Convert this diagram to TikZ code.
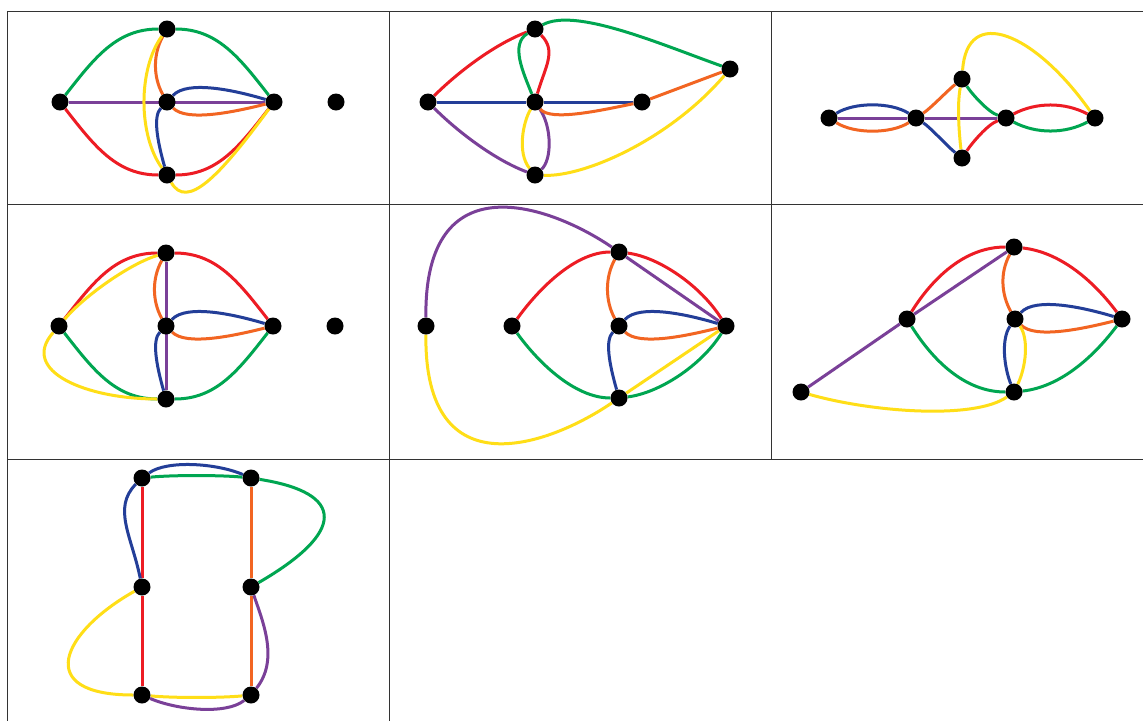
\documentclass[tikz,border=0pt]{standalone}
\definecolor{cred}{RGB}{237,28,36}
\definecolor{cgreen}{RGB}{0,166,81}
\definecolor{cblue}{RGB}{35,62,152}
\definecolor{cpurple}{RGB}{122,64,152}
\definecolor{corange}{RGB}{242,101,34}
\definecolor{cyellow}{RGB}{255,222,23}
\pgfdeclarelayer{bglayer}
\pgfdeclarelayer{edgelayer}
\pgfsetlayers{bglayer,edgelayer,main}
\begin{document}
\begin{tikzpicture}[x=1pt,y=-1pt,
  dot/.style={circle,fill=black,inner sep=0pt,minimum size=17pt},
  gridline/.style={draw=black!80,line width=1pt},
  ed/.style={line width=3pt},
  Ered/.style={ed,draw=cred},
  Egreen/.style={ed,draw=cgreen},
  Eblue/.style={ed,draw=cblue},
  Epurple/.style={ed,draw=cpurple},
  Eorange/.style={ed,draw=corange},
  Eyellow/.style={ed,draw=cyellow}]
\useasboundingbox (0,0) rectangle (1143,721);
\begin{pgfonlayer}{bglayer}
\fill[white] (0,0) rectangle (1143,721);
\draw[gridline] (7,11) -- (1143,11);
\draw[gridline] (7,204) -- (1143,204);
\draw[gridline] (7,459) -- (1143,459);
\draw[gridline] (7,11) -- (7,721);
\draw[gridline] (389,11) -- (389,721);
\draw[gridline] (771,11) -- (771,459);
\end{pgfonlayer}

% panel 1
\node[dot] (aL) at (60,102) {};
\node[dot] (aT) at (167,29) {};
\node[dot] (aC) at (167,102) {};
\node[dot] (aB) at (167,175) {};
\node[dot] (aR) at (274,102) {};
\node[dot] (aI) at (336,102) {};
% panel 2
\node[dot] (bL) at (428,102) {};
\node[dot] (bT) at (535,29) {};
\node[dot] (bC) at (535,102) {};
\node[dot] (bB) at (535,175) {};
\node[dot] (bM) at (642,102) {};
\node[dot] (bR) at (730,69) {};
% panel 3
\node[dot] (cA) at (829,118) {};
\node[dot] (cB) at (916,118) {};
\node[dot] (cT) at (962,79) {};
\node[dot] (cD) at (962,158) {};
\node[dot] (cE) at (1006,118) {};
\node[dot] (cF) at (1095,118) {};
% panel 4
\node[dot] (dL) at (59,326) {};
\node[dot] (dT) at (166,253) {};
\node[dot] (dC) at (166,326) {};
\node[dot] (dB) at (166,399) {};
\node[dot] (dR) at (273,326) {};
\node[dot] (dI) at (335,326) {};
% panel 5
\node[dot] (eF) at (426,326) {};
\node[dot] (eL) at (512,326) {};
\node[dot] (eT) at (619,252) {};
\node[dot] (eC) at (619,326) {};
\node[dot] (eB) at (619,398) {};
\node[dot] (eR) at (726,326) {};
% panel 6
\node[dot] (fF) at (801,392) {};
\node[dot] (fL) at (907,319) {};
\node[dot] (fT) at (1014,247) {};
\node[dot] (fC) at (1015,319) {};
\node[dot] (fB) at (1014,392) {};
\node[dot] (fR) at (1122,319) {};
% panel 7
\node[dot] (gA) at (142,478) {};
\node[dot] (gB) at (251,478) {};
\node[dot] (gC) at (142,587) {};
\node[dot] (gD) at (251,587) {};
\node[dot] (gE) at (142,695) {};
\node[dot] (gF) at (251,695) {};

\begin{pgfonlayer}{edgelayer}
% panel 1
\draw[Egreen] (aL) .. controls +(35,-45) and +(-50,0) .. (aT);
\draw[Egreen] (aT) .. controls +(50,0) and +(-35,-45) .. (aR);
\draw[Ered] (aL) .. controls +(35,45) and +(-50,0) .. (aB);
\draw[Ered] (aB) .. controls +(50,0) and +(-35,45) .. (aR);
\draw[Epurple] (aL) -- (aR);
\draw[Eorange] (aT) .. controls +(-14,25) and +(-14,-25) .. (aC);
\draw[Eyellow] (aT) .. controls +(-29,40) and +(-29,-40) .. (aB);
\draw[Eblue] (aC) .. controls +(20,-22) and +(-40,-12) .. (aR);
\draw[Eorange] (aC) .. controls +(20,20) and +(-40,10) .. (aR);
\draw[Eblue] (aC) .. controls +(-14,14) and +(-10,-35) .. (aB);
\draw[Eyellow] (aB) .. controls +(20,35) and +(-55,75) .. (aR);
% panel 2
\draw[Ered] (bL) .. controls +(30,-30) and +(-40,15) .. (bT);
\draw[Epurple] (bL) .. controls +(30,30) and +(-40,-15) .. (bB);
\draw[Eblue] (bL) -- (bC);
\draw[Eblue] (bC) -- (bM);
\draw[Egreen] (bT) .. controls +(-25,15) and +(-12,-30) .. (bC);
\draw[Ered] (bT) .. controls +(22,22) and +(10,-35) .. (bC);
\draw[Egreen] (bT) .. controls +(40,-22) and +(-70,-25) .. (bR);
\draw[Eyellow] (bC) .. controls +(-12,20) and +(-18,-22) .. (bB);
\draw[Epurple] (bC) .. controls +(17,25) and +(17,-15) .. (bB);
\draw[Eorange] (bC) .. controls +(15,20) and +(-40,8) .. (bM);
\draw[Eorange] (bM) -- (bR);
\draw[Eyellow] (bB) .. controls +(50,2) and +(-60,70) .. (bR);
% panel 3
\draw[Eblue] (cA) .. controls +(25,-16) and +(-25,-16) .. (cB);
\draw[Eorange] (cA) .. controls +(25,16) and +(-25,16) .. (cB);
\draw[Epurple] (cA) -- (cB);
\draw[Epurple] (cB) -- (cE);
\draw[Eorange] (cB) .. controls +(15,-10) and +(-15,12) .. (cT);
\draw[Eblue] (cB) .. controls +(15,10) and +(-15,-12) .. (cD);
\draw[Egreen] (cT) .. controls +(10,15) and +(-18,-6) .. (cE);
\draw[Ered] (cD) .. controls +(10,-15) and +(-18,6) .. (cE);
\draw[Eyellow] (cT) .. controls +(-5,25) and +(-3,-25) .. (cD);
\draw[Eyellow] (cT) .. controls +(5,-75) and +(-60,-85) .. (cF);
\draw[Ered] (cE) .. controls +(30,-16) and +(-30,-16) .. (cF);
\draw[Egreen] (cE) .. controls +(30,16) and +(-30,16) .. (cF);
% panel 4
\draw[Ered] (dL) .. controls +(35,-45) and +(-50,0) .. (dT);
\draw[Ered] (dT) .. controls +(50,0) and +(-35,-45) .. (dR);
\draw[Eyellow] (dL) .. controls +(25,-30) and +(-35,10) .. (dT);
\draw[Egreen] (dL) .. controls +(35,45) and +(-50,0) .. (dB);
\draw[Egreen] (dB) .. controls +(50,0) and +(-35,45) .. (dR);
\draw[Eyellow] (dL) .. controls +(-40,45) and +(-80,0) .. (dB);
\draw[Eorange] (dT) .. controls +(-14,25) and +(-14,-25) .. (dC);
\draw[Epurple] (dT) -- (dB);
\draw[Eblue] (dC) .. controls +(20,-22) and +(-40,-12) .. (dR);
\draw[Eorange] (dC) .. controls +(20,20) and +(-40,10) .. (dR);
\draw[Eblue] (dC) .. controls +(-14,14) and +(-10,-35) .. (dB);
% panel 5
\draw[Epurple] (eF) .. controls +(-2,-166) and +(-69,-47) .. (eT);
\draw[Epurple] (eT) -- (eR);
\draw[Eyellow] (eF) .. controls +(-2,166) and +(-69,47) .. (eB);
\draw[Eyellow] (eB) -- (eR);
\draw[Ered] (eL) .. controls +(25,-35) and +(-45,0) .. (eT);
\draw[Ered] (eT) .. controls +(40,5) and +(-25,-40) .. (eR);
\draw[Egreen] (eL) .. controls +(25,35) and +(-45,0) .. (eB);
\draw[Egreen] (eB) .. controls +(40,-5) and +(-25,40) .. (eR);
\draw[Eorange] (eT) .. controls +(-14,25) and +(-14,-25) .. (eC);
\draw[Eblue] (eC) .. controls +(20,-22) and +(-40,-12) .. (eR);
\draw[Eorange] (eC) .. controls +(20,20) and +(-40,10) .. (eR);
\draw[Eblue] (eC) .. controls +(-14,14) and +(-10,-35) .. (eB);
% panel 6
\draw[Epurple] (fF) -- (fL);
\draw[Epurple] (fL) -- (fT);
\draw[Ered] (fL) .. controls +(25,-40) and +(-50,0) .. (fT);
\draw[Ered] (fT) .. controls +(45,5) and +(-30,-40) .. (fR);
\draw[Egreen] (fL) .. controls +(25,40) and +(-50,0) .. (fB);
\draw[Egreen] (fB) .. controls +(45,-5) and +(-30,40) .. (fR);
\draw[Eorange] (fT) .. controls +(-14,25) and +(-14,-25) .. (fC);
\draw[Eblue] (fC) .. controls +(20,-22) and +(-40,-12) .. (fR);
\draw[Eorange] (fC) .. controls +(20,20) and +(-40,10) .. (fR);
\draw[Eblue] (fC) .. controls +(-14,20) and +(-10,-25) .. (fB);
\draw[Eyellow] (fC) .. controls +(14,20) and +(12,-25) .. (fB);
\draw[Eyellow] (fF) .. controls +(70,20) and +(-40,28) .. (fB);
% panel 7
\draw[Eblue] (gA) .. controls +(25,-18) and +(-35,-15) .. (gB);
\draw[Egreen] (gA) .. controls +(30,-3) and +(-30,-3) .. (gB);
\draw[Egreen] (gB) .. controls +(95,15) and +(95,-55) .. (gD);
\draw[Ered] (gA) -- (gC);
\draw[Ered] (gC) -- (gE);
\draw[Eorange] (gB) -- (gD);
\draw[Eorange] (gD) -- (gF);
\draw[Eblue] (gA) .. controls +(-30,30) and +(-10,-50) .. (gC);
\draw[Eyellow] (gC) .. controls +(-80,45) and +(-110,0) .. (gE);
\draw[Eyellow] (gE) .. controls +(30,3) and +(-30,3) .. (gF);
\draw[Epurple] (gE) .. controls +(35,15) and +(-25,20) .. (gF);
\draw[Epurple] (gD) .. controls +(12,35) and +(28,-35) .. (gF);
\end{pgfonlayer}
\end{tikzpicture}
\end{document}
